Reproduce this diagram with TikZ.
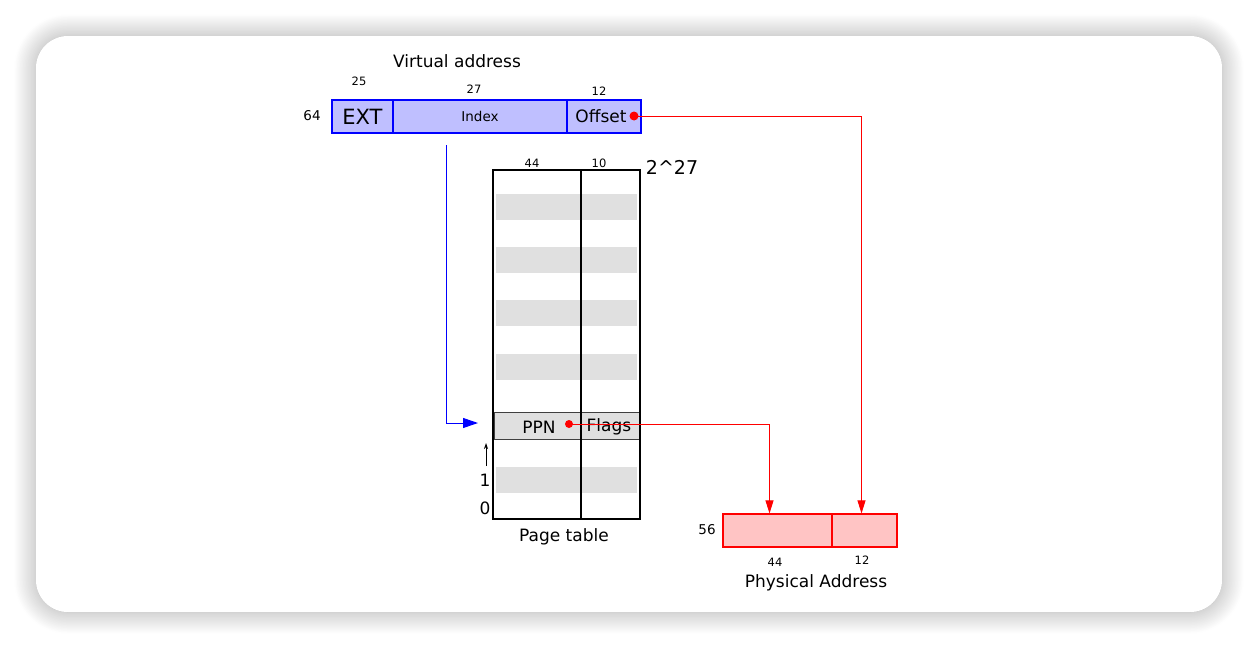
\documentclass[tikz,border=0pt]{standalone}
\usepackage{fontspec}
\setmainfont{DejaVu Sans}
\usetikzlibrary{arrows.meta,shadows.blur}
\definecolor{vablue}{HTML}{0000FF}
\definecolor{vafill}{HTML}{BFBFFF}
\definecolor{pared}{HTML}{FF0000}
\definecolor{pafill}{HTML}{FFC4C4}
\definecolor{ptband}{HTML}{E0E0E0}

\begin{document}
\begin{tikzpicture}[x=1pt,y=-1pt,
  vfield/.style={draw=vablue,fill=vafill,line width=1.2pt,inner sep=0pt,minimum height=33pt},
  pfield/.style={draw=pared,fill=pafill,line width=1.2pt,inner sep=0pt,minimum height=33pt},
  band/.style={fill=ptband,inner sep=0pt,minimum width=141pt,minimum height=26pt},
  bits/.style={font=\fontsize{11.5}{13}\selectfont},
  lbl/.style={font=\fontsize{17}{20}\selectfont},
  tapdot/.style={circle,fill=pared,inner sep=0pt,minimum size=9pt},
  redlink/.style={pared,line width=0.9pt,-{Triangle[length=13pt,width=8pt]}},
  bluelink/.style={vablue,line width=1pt,-{Triangle[length=15pt,width=10pt]}}]
  % card
  \useasboundingbox (0,0) rectangle (1258,648);
  \fill[white,rounded corners=32pt,
    blur shadow={shadow xshift=0pt,shadow yshift=0pt,shadow blur radius=22pt,
      shadow blur steps=30,shadow opacity=35}]
    (36,36) rectangle (1222,612);

  % virtual address
  \node[lbl] (vatitle) at (457,61) {Virtual address};
  \node[vfield,minimum width=61pt] (ext) at (362.5,116.5) {\fontsize{21}{25}\selectfont EXT};
  \node[vfield,minimum width=174pt,line width=2.2pt] (idx) at (480,116.5) {\fontsize{13.5}{16}\selectfont Index};
  \node[vfield,minimum width=74pt] (off) at (604,116.5) {\hspace*{-6pt}\fontsize{17}{20}\selectfont Offset};
  \node[bits] (b25) at (359,81) {25};
  \node[bits] (b27) at (474,89) {27};
  \node[bits] (b12) at (599,91) {12};
  \node[bits,font=\fontsize{13.5}{16}\selectfont] (b64) at (312,116) {64};
  \node[tapdot] (offdot) at (634,116) {};

  % page table
  \foreach \yy in {207,260,313,367,479.5}
    \node[band] at (566.5,\yy) {};
  \node[draw=black!75,fill=ptband,line width=1pt,inner sep=0pt,
    minimum width=146pt,minimum height=27pt] (pte) at (567,425.5) {};
  \node[draw,line width=1.3pt,inner sep=0pt,minimum width=147pt,minimum height=349pt] (ptab) at (566.5,344.5) {};
  \draw[line width=1.3pt] (581,170) -- (581,519);
  \node[lbl] (ppn) at (539,427) {PPN};
  \node[lbl] (flags) at (609,427) {Flags};
  \node[tapdot,minimum size=8pt] (ppndot) at (569,424) {};
  \node[bits] (b44) at (532,163) {44};
  \node[bits] (b10) at (599,163) {10};
  \node[font=\fontsize{19}{22}\selectfont] (top) at (672,167) {2\^{}27};
  \node[lbl] (one) at (485,480) {1};
  \node[lbl] (zero) at (485,508) {0};
  \coordinate (upfrom) at (486,466);
  \coordinate (upto) at (486,443);
  \draw[line width=0.8pt,-{Stealth[length=6pt,width=4pt]}] (upfrom) -- (upto);
  \node[lbl] (pttitle) at (564,537) {Page table};

  % physical address
  \node[pfield,minimum width=109pt] (pppn) at (777.5,530.5) {};
  \node[pfield,minimum width=65pt] (pofs) at (864.5,530.5) {};
  \node[bits,font=\fontsize{13.5}{16}\selectfont] (b56) at (707,530) {56};
  \node[bits] (b44p) at (775,562) {44};
  \node[bits] (b12p) at (862,560) {12};
  \node[lbl] (patitle) at (816,583) {Physical Address};

  % connectors
  \coordinate (idxtap) at (446,145);
  \coordinate (slot) at (478,423);
  \draw[bluelink] (idxtap) |- (slot);
  \draw[redlink] (offdot.center) -| ([xshift=-3pt]pofs.north);
  \draw[redlink] (ppndot.center) -| ([xshift=-8pt]pppn.north);
\end{tikzpicture}
\end{document}
